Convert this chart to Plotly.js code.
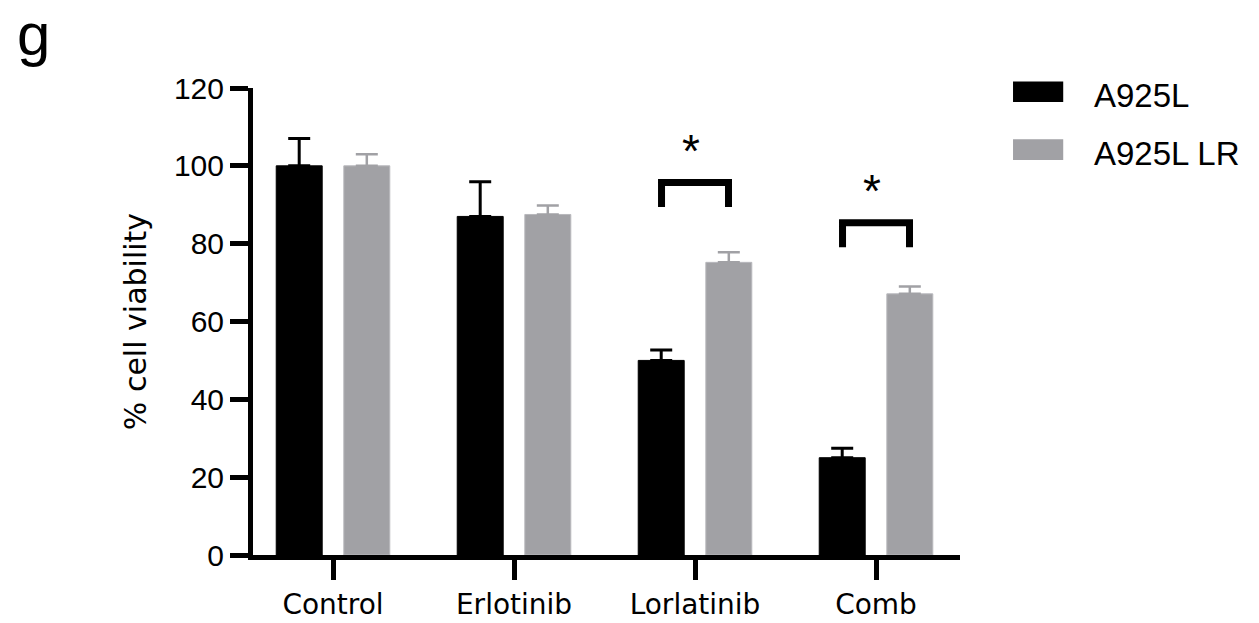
<!DOCTYPE html>
<html>
<head>
<meta charset="utf-8">
<script src="https://cdn.plot.ly/plotly-3.0.1.min.js"></script>
<style>html,body{margin:0;padding:0;background:#fff}#chart{width:1259px;height:623px}</style>
</head>
<body>
<div id="chart"></div>
<script>
// ---- data ----
const categories = ["Control", "Erlotinib", "Lorlatinib", "Comb"];
const seriesNames = ["A925L", "A925L LR"];
const a925l = [100, 87, 50, 25];
const a925lErr = [7, 8.9, 2.7, 2.4];
const a925lLR = [100, 87.5, 75.2, 67.1];
const a925lLRErr = [3, 2.3, 2.6, 1.9];
const sigBracketTop = [null, null, 95.7, 85.4];
const sigLabel = ["", "", "*", "*"];
const yTicks = [0, 20, 40, 60, 80, 100, 120];

const colors = ["#000000", "#a1a1a5"];
const idx = categories.map((_, i) => i);

const traces = [
  {
    type: "bar", x: idx, y: a925l, name: seriesNames[0],
    marker: {color: colors[0], line: {color: "#000", width: 1}},
    error_y: {type: "data", array: a925lErr, arrayminus: a925l.map(() => 0), symmetric: false,
      color: colors[0], thickness: 3, width: 11},
    showlegend: false, hoverinfo: "skip"
  },
  {
    type: "bar", x: idx, y: a925lLR, name: seriesNames[1],
    marker: {color: colors[1], line: {color: "#b8b8bc", width: 1}},
    error_y: {type: "data", array: a925lLRErr, arrayminus: a925lLR.map(() => 0), symmetric: false,
      color: colors[1], thickness: 2.5, width: 11},
    showlegend: false, hoverinfo: "skip"
  }
];

const shapes = [];
const annotations = [];
const legOff = 0.185, legDrop = 6.3;
sigBracketTop.forEach((yt, i) => {
  if (yt === null) return;
  const x0 = i - legOff, x1 = i + legOff, yb = yt - legDrop;
  shapes.push({type: "path", xref: "x", yref: "y",
    path: `M ${x0},${yb} L ${x0},${yt} L ${x1},${yt} L ${x1},${yb}`,
    line: {color: "#000", width: 7}});
  annotations.push({xref: "x", yref: "y", x: i - 0.02, y: yt, text: sigLabel[i],
    showarrow: false, yanchor: "bottom", yshift: 4,
    font: {family: "Liberation Sans, Arial", size: 46, color: "#000"}});
});

// manual legend (large swatches)
const legY = [0.992, 0.868];
seriesNames.forEach((n, k) => {
  shapes.push({type: "rect", xref: "paper", yref: "paper",
    x0: 1.075, x1: 1.146, y0: legY[k] - 0.022, y1: legY[k] + 0.022,
    fillcolor: colors[k], line: {width: 0}});
  annotations.push({xref: "paper", yref: "paper", x: 1.186, y: legY[k] - 0.008,
    xanchor: "left", yanchor: "middle", text: n, showarrow: false,
    font: {family: "Liberation Sans, Arial", size: 33, color: "#000"}});
});
// panel letter
annotations.push({xref: "paper", yref: "paper", x: -0.337, y: 1.19, xanchor: "left", yanchor: "top",
  text: "g", showarrow: false, font: {family: "Liberation Sans, Arial", size: 60, color: "#000"}});

const layout = {
  width: 1259, height: 623,
  margin: {l: 253, r: 299, t: 88, b: 68},
  paper_bgcolor: "#fff", plot_bgcolor: "#fff",
  barmode: "group", bargap: 0.253, bargroupgap: 0.32,
  showlegend: false,
  xaxis: {
    type: "linear", range: [-0.442, 3.464],
    tickvals: idx, ticktext: categories,
    showgrid: false, zeroline: false,
    showline: true, linecolor: "#000", linewidth: 5,
    ticks: "outside", ticklen: 20, tickwidth: 5, tickcolor: "#000",
    tickfont: {family: "DejaVu Sans", size: 28, color: "#000"},
    fixedrange: true
  },
  yaxis: {
    range: [0, 120], tickvals: yTicks,
    showgrid: false, zeroline: false,
    showline: true, linecolor: "#000", linewidth: 5,
    ticks: "outside", ticklen: 18, tickwidth: 5, tickcolor: "#000",
    tickfont: {family: "Liberation Sans, Arial", size: 30, color: "#000"},
    title: {text: "% cell viability", font: {family: "DejaVu Sans", size: 30, color: "#000"}, standoff: 20},
    fixedrange: true
  },
  shapes: shapes,
  annotations: annotations
};

Plotly.newPlot("chart", traces, layout, {displayModeBar: false, staticPlot: true});
</script>
</body>
</html>
